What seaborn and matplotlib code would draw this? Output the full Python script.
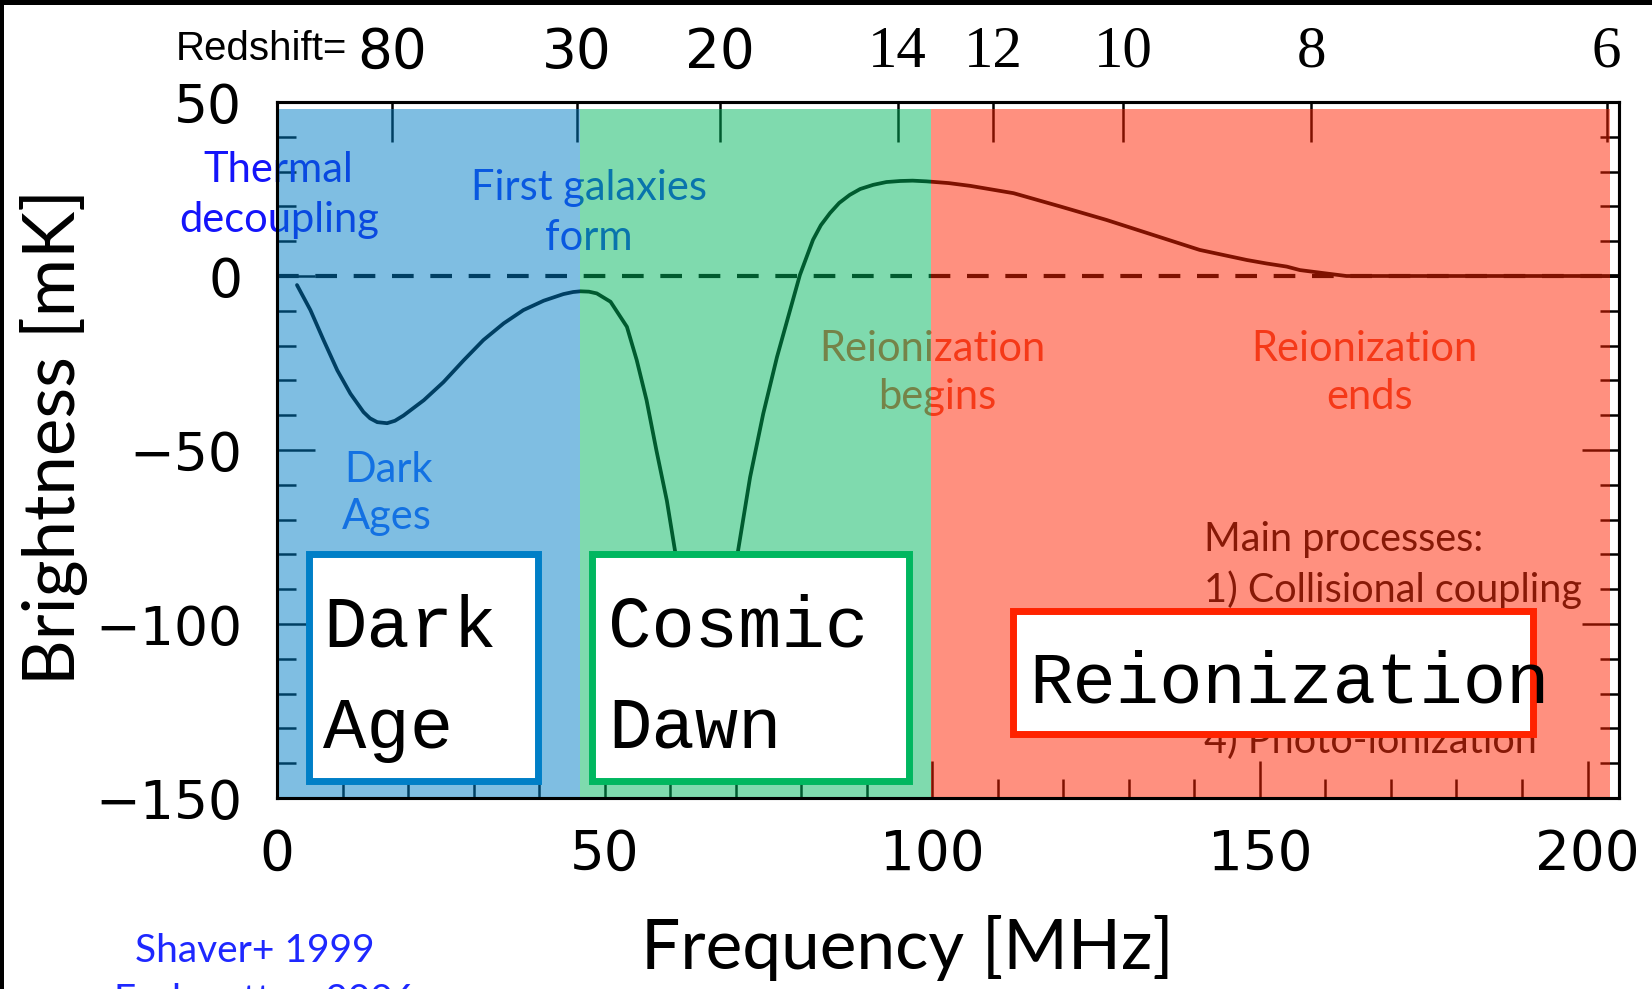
import numpy as np
import matplotlib
matplotlib.use('Agg')
import matplotlib.pyplot as plt
from matplotlib.patches import Rectangle
from matplotlib.ticker import MultipleLocator, NullLocator
import seaborn as sns

sns.set_theme(style='ticks')
plt.rcParams['font.family'] = ['Lato', 'DejaVu Sans']
plt.rcParams['axes.unicode_minus'] = True

# 21-cm global signal (MHz, mK)
freq = [3.05, 5.1, 7.1, 9.2, 11.2, 13.2, 14.2, 15.3, 16.8, 18.0, 19.3, 22.4, 25.4, 28.5,
        31.5, 34.6, 37.6, 40.7, 43.7, 45.2, 46.3, 47.6, 48.8, 50.9, 53.4, 54.9, 56.4, 57.9,
        59.5, 60.7, 62.3, 64.0, 65.5, 67.0, 68.7, 70.4, 72.2, 74.2, 76.3, 78.3,
        79.8, 81.8, 83.0, 84.4, 85.8, 87.4, 89.0, 91.0, 93.0, 95.1, 97.0, 99.1, 102.5,
        105.8, 112.4, 119.5, 126.6, 133.7, 140.8, 148.0, 151.0, 154.1, 156.1, 159.2,
        163.2, 204.8]
tb = [-2.6, -9.8, -18.4, -27.1, -33.8, -39.1, -40.9, -42.0, -42.3, -41.6, -40.1, -35.7,
      -30.5, -24.2, -18.4, -13.6, -9.8, -7.1, -5.2, -4.6, -4.4, -4.5, -5.0, -7.4, -14.6,
      -24.2, -35.7, -50.1, -64.6, -78.5, -96.0, -110.0, -115.0, -110.0, -96.0, -78.5,
      -57.8, -39.6, -23.3, -9.8, 0.3, 10.4, 14.6, 18.1, 21.0, 23.3, 25.0, 26.2, 27.0,
      27.3, 27.4, 27.2, 26.7, 25.9, 23.8, 20.0, 16.1, 11.8, 7.5, 4.6, 3.6, 2.7, 1.7,
      0.95, 0.0, 0.0]

# epochs
band_names = ['Dark\nAge', 'Cosmic\nDawn', 'Reionization']
band_edges = [0, 46.3, 99.8, 203.4]
band_colors = ['#007fc7', '#00b75f', '#ff2300']
box_x = [(4.85, 39.9), (48.0, 96.4), (112.3, 191.6)]
box_y = [(-145.1, -80.0), (-145.1, -80.0), (-131.6, -96.3)]

redshifts = [80, 30, 20, 14, 12, 10, 8, 6]
NU21 = 1420.4

W, H = 1652, 989
fig = plt.figure(figsize=(W / 100, H / 100), dpi=100)
ax = fig.add_axes([277 / W, (H - 798) / H, 1342 / W, 696 / H])

ax.axhline(0, color='black', lw=3.0, ls=(0, (5.2, 4.0)), zorder=1.5)
sns.lineplot(x=freq, y=tb, ax=ax, color='black', lw=2.7, zorder=2)

ax.set_xlim(0, 204.8)
ax.set_ylim(-150, 50)
ax.set_xticks([0, 50, 100, 150, 200])
ax.set_yticks([-150, -100, -50, 0, 50])
ax.xaxis.set_minor_locator(MultipleLocator(10))
ax.yaxis.set_minor_locator(MultipleLocator(10))
ax.tick_params(which='both', direction='in', top=False, right=True,
               width=1.8, colors='black')
ax.tick_params(which='major', length=27)
ax.tick_params(which='minor', length=13.5)
ax.tick_params(axis='x', which='major', labelsize=39.5, pad=21.5)
ax.tick_params(axis='y', which='major', labelsize=38.5, pad=25)
for lab in ax.get_xticklabels() + ax.get_yticklabels():
    lab.set_fontfamily('DejaVu Sans')

ax.set_xlabel('Frequency [MHz]', fontsize=50, color='black', va='baseline')
ax.xaxis.set_label_coords(0.4695, -0.2457)
ax.set_ylabel('Brightness [mK]', fontsize=51, color='black')
ax.yaxis.set_label_coords(-0.1408, 0.5187)

# annotations (drawn under the colour bands)
notes = [
    ('Thermal', 0.2, 27.1, '#1414fa'), ('decoupling', 0.3, 12.7, '#1414fa'),
    ('First galaxies', 47.6, 21.9, '#1432fa'), ('form', 47.6, 7.5, '#1432fa'),
    ('Dark', 17.1, -59.1, '#2864ff'), ('Ages', 16.8, -72.6, '#2864ff'),
    ('Reionization', 100.0, -24.5, '#eb5032'), ('begins', 100.8, -38.3, '#eb5032'),
    ('Reionization', 165.9, -24.5, '#eb5032'), ('ends', 166.8, -38.3, '#eb5032'),
]
for txt, x, y, c in notes:
    ax.text(x, y, txt, ha='center', va='baseline', fontsize=30, color=c)

# list of processes; lines 2) and 3) sit under the Reionization box
processes = ['Main processes:', '1) Collisional coupling', '4) Photo-ionization']
process_rows = [0, 1, 4]
for row, line in zip(process_rows, processes):
    ax.text(141.5, -79.0 - 14.55 * row, line, ha='left', va='baseline',
            fontsize=28.5, color='#101010')

# top axis: redshift
ax2 = ax.twiny()
ax2.set_xlim(ax.get_xlim())
ax2.set_xticks([NU21 / (1 + z) for z in redshifts])
ax2.set_xticklabels([str(z) for z in redshifts])
ax2.xaxis.set_minor_locator(NullLocator())
ax2.tick_params(axis='x', direction='in', length=29, width=1.8, colors='black',
                labelsize=39.5, pad=16)
for lab, z in zip(ax2.get_xticklabels(), redshifts):
    if z <= 14:
        lab.set_fontfamily('Liberation Serif')
        lab.set_fontsize(42.5)
    else:
        lab.set_fontfamily('DejaVu Sans')

for x0, x1, c in zip(band_edges[:-1], band_edges[1:], band_colors):
    ax2.axvspan(x0, x1, ymin=0, ymax=0.99, color=c, alpha=0.5, lw=0, zorder=3)

for a in (ax, ax2):
    for s in a.spines.values():
        s.set_linewidth(2.2)
        s.set_color('black')
        s.set_zorder(5)

# epoch boxes
for name, (x0, x1), (y0, y1), c in zip(band_names, box_x, box_y, band_colors):
    ax2.add_patch(Rectangle((x0, y0), x1 - x0, y1 - y0, facecolor='white',
                            edgecolor=c, lw=5, zorder=6))
box_text_pos = [(7.0, -106.5), (50.5, -106.5), (114.8, -122.7)]
for name, (x, y) in zip(band_names, box_text_pos):
    for k, line in enumerate(name.split('\n')):
        ax2.text(x, y - 29.1 * k, line, ha='left', va='baseline', fontsize=52,
                 family='Liberation Mono', color='black', zorder=7)

fig.text(176 / W, (H - 60) / H, 'Redshift=', fontsize=29, family='Liberation Sans',
         color='black', ha='left', va='baseline')
fig.text(135 / W, (H - 962) / H, 'Shaver+ 1999', fontsize=28, color='#1e28ff',
         ha='left', va='baseline')
fig.text(114 / W, (H - 1012) / H, 'Furlanetto+ 2006', fontsize=28, color='#1e28ff',
         ha='left', va='baseline')

# screenshot border
fig.add_artist(Rectangle((0, 1 - 5 / H), 1, 5 / H, transform=fig.transFigure,
                         color='black', lw=0))
fig.add_artist(Rectangle((0, 0), 4 / W, 1, transform=fig.transFigure,
                         color='black', lw=0))

fig.savefig('out.png', dpi=100)
